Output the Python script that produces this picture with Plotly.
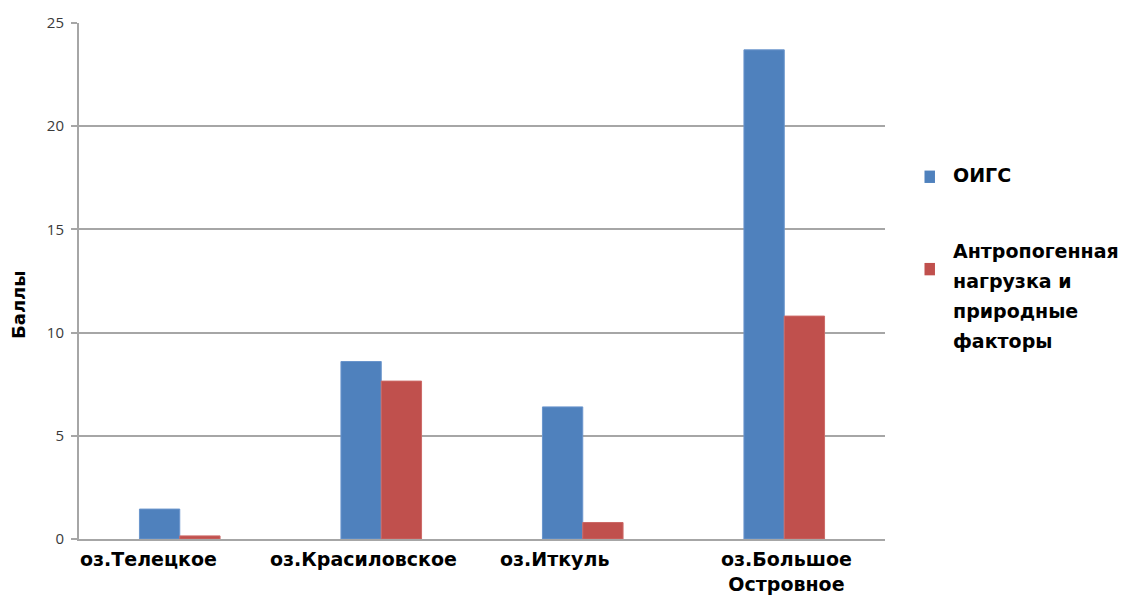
import plotly.graph_objects as go

# Lakes and their scores
lakes = ["оз.Телецкое", "оз.Красиловское", "оз.Иткуль", "оз.Большое<br>Островное"]
oigs = [1.45, 8.6, 6.4, 23.7]
anthropogenic = [0.15, 7.65, 0.8, 10.8]
series_names = ["ОИГС", "Антропогенная<br>нагрузка и<br>природные<br>факторы"]
y_ticks = [0, 5, 10, 15, 20, 25]

BLUE = "#4F81BD"
RED = "#C0504D"
GRID = "#A6A6A6"
FONT = "DejaVu Sans"

fig = go.Figure()
fig.add_trace(go.Bar(x=lakes, y=oigs, name=series_names[0],
                     marker=dict(color=BLUE, line=dict(color="#6A95CC", width=1))))
fig.add_trace(go.Bar(x=lakes, y=anthropogenic, name=series_names[1],
                     marker=dict(color=RED, line=dict(color="#CC6966", width=1))))

fig.update_layout(
    width=1122, height=596,
    margin=dict(l=79, r=237, t=19, b=57),
    paper_bgcolor="white", plot_bgcolor="white",
    barmode="group", bargap=0.6, bargroupgap=0,
    showlegend=False,
    font=dict(family=FONT, color="#000000"),
)
fig.update_xaxes(
    showticklabels=False, showgrid=False,
    showline=True, linecolor=GRID, linewidth=2,
    ticks="", range=[-0.5, 3.5],
)
fig.update_yaxes(
    range=[0, 25], tickvals=y_ticks,
    showgrid=True, gridcolor=GRID, gridwidth=1.5,
    showline=True, linecolor=GRID, linewidth=2,
    ticks="outside", ticklen=6, tickcolor=GRID, tickwidth=1.5,
    tickfont=dict(family="Open Sans", size=15, color="#3A3A3A"),
    ticklabelstandoff=4, zeroline=False,
)

# Category labels under the axis, each nudged slightly left of its group
label_shift = [-31, -18, -28, 2]
for lake, dx in zip(lakes, label_shift):
    fig.add_annotation(x=lake, xref="x", y=0, yref="paper", yanchor="top",
                       yshift=-7, xshift=dx, text=f"<b>{lake}</b>",
                       showarrow=False, align="center",
                       font=dict(family=FONT, size=19, color="#000000"))

# Y-axis title
fig.add_annotation(x=-0.076, xref="paper", xanchor="center", y=0.455, yref="paper",
                   text="<b>Баллы</b>", textangle=-90, showarrow=False,
                   font=dict(family=FONT, size=18, color="#000000"))

# Legend drawn as swatches with labels beside them (30 px line pitch)
line_step = 30 / 520
legend_items = [(BLUE, series_names[0], 0.702, 0.706), (RED, series_names[1], 0.523, 0.5577)]
for color, name, sq_y, top_y in legend_items:
    fig.add_shape(type="rect", xref="paper", yref="paper",
                  x0=1.049, x1=1.062, y0=sq_y - 0.012, y1=sq_y + 0.012,
                  fillcolor=color, line=dict(width=0))
    for i, line in enumerate(name.split("<br>")):
        fig.add_annotation(x=1.082, xref="paper", xanchor="left",
                           y=top_y - i * line_step, yref="paper", yanchor="middle",
                           text=f"<b>{line}</b>", showarrow=False, align="left",
                           font=dict(family=FONT, size=19, color="#000000"))

fig.write_html("out.html")
